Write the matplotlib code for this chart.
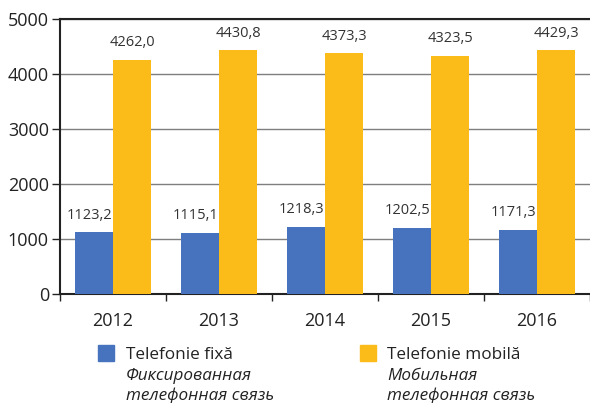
import matplotlib.pyplot as plt
from matplotlib.patches import Rectangle
import numpy as np

plt.rcParams['font.family'] = ['Open Sans', 'DejaVu Sans']

# data
years = ['2012', '2013', '2014', '2015', '2016']
fixed = [1123.2, 1115.1, 1218.3, 1202.5, 1171.3]
mobile = [4262.0, 4430.8, 4373.3, 4323.5, 4429.3]
yticks = [0, 1000, 2000, 3000, 4000, 5000]

blue = '#4672BE'
yellow = '#FBBC1A'
txt = '#222222'

fig = plt.figure(figsize=(5.9, 4.03), dpi=100)
ax = fig.add_axes([60 / 590, 1 - 294 / 403, 530 / 590, 275 / 403])

x = np.arange(len(years))
w = 0.36
ax.bar(x - w / 2, fixed, w, color=blue, zorder=3)
ax.bar(x + w / 2, mobile, w, color=yellow, zorder=3)

fmt = lambda v: f'{v:.1f}'.replace('.', ',')
for xi, v in zip(x, fixed):
    ax.annotate(fmt(v), (xi - w / 2 - 0.04, v), xytext=(0, 7), textcoords='offset points',
                ha='center', va='bottom', fontsize=10.5, color='#333333', zorder=4)
for xi, v in zip(x, mobile):
    ax.annotate(fmt(v), (xi + w / 2, v), xytext=(0, 7), textcoords='offset points',
                ha='center', va='bottom', fontsize=10.5, color='#333333', zorder=4)

ax.set_xlim(-0.5, len(years) - 0.5)
ax.set_ylim(0, 5000)
ax.set_yticks(yticks)
ax.set_yticklabels([str(t) for t in yticks], fontsize=13, color=txt)
ax.yaxis.grid(True, color='#7f7f7f', linewidth=1, zorder=0)
ax.tick_params(axis='y', length=6, width=1, color=txt, pad=2)

ax.set_xticks(x)
ax.set_xticklabels(years, fontsize=13, color=txt)
ax.tick_params(axis='x', length=0, pad=13)
ax.set_xticks(np.arange(len(years) + 1) - 0.5, minor=True)
ax.tick_params(axis='x', which='minor', length=5, width=1, color=txt)

ax.spines['right'].set_visible(False)
for s in ['top', 'left', 'bottom']:
    ax.spines[s].set_color(txt)
    ax.spines[s].set_linewidth(1.5)

# legend
W, H = 590, 403
def fx(px):
    return px / W
def fy(py):
    return 1 - py / H

fig.patches.append(Rectangle((fx(98), fy(361)), 16 / W, 16 / H, transform=fig.transFigure,
                             color=blue, figure=fig))
fig.text(fx(126), fy(355), 'Telefonie fixă', fontsize=12.3, va='center', color=txt)
fig.text(fx(126), fy(376), 'Фиксированная', fontsize=12.3, va='center', style='italic', color=txt)
fig.text(fx(126), fy(396), 'телефонная связь', fontsize=12.3, va='center', style='italic', color=txt)

fig.patches.append(Rectangle((fx(360), fy(361)), 16 / W, 16 / H, transform=fig.transFigure,
                             color=yellow, figure=fig))
fig.text(fx(387), fy(355), 'Telefonie mobilă', fontsize=12.3, va='center', color=txt)
fig.text(fx(387), fy(376), 'Мобильная', fontsize=12.3, va='center', style='italic', color=txt)
fig.text(fx(387), fy(396), 'телефонная связь', fontsize=12.3, va='center', style='italic', color=txt)

fig.savefig('out.png', dpi=100)
